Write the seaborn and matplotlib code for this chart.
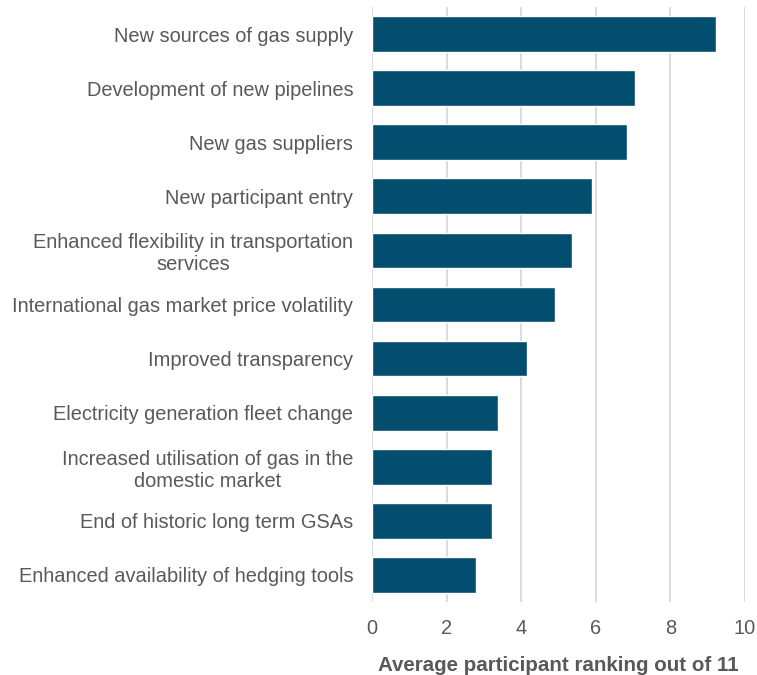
import matplotlib
matplotlib.use("Agg")
import matplotlib.pyplot as plt
import seaborn as sns
import pandas as pd

# 各驱动因素及平均排名
categories = [
    "New sources of gas supply",
    "Development of new pipelines",
    "New gas suppliers",
    "New participant entry",
    "Enhanced flexibility in transportation\nservices",
    "International gas market price volatility",
    "Improved transparency",
    "Electricity generation fleet change",
    "Increased utilisation of gas in the\ndomestic market",
    "End of historic long term GSAs",
    "Enhanced availability of hedging tools",
]
rankings = [9.21, 7.06, 6.84, 5.89, 5.35, 4.91, 4.15, 3.39, 3.21, 3.21, 2.80]
x_ticks = [0, 2, 4, 6, 8, 10]

BAR_COLOR = "#034D6F"
TEXT_COLOR = "#595959"
GRID_COLOR = "#D9D9D9"
FONT_SIZE = 14.4

df = pd.DataFrame({"driver": categories, "ranking": rankings})

sns.set_theme(style="white")
plt.rcParams["font.family"] = ["Liberation Sans", "DejaVu Sans"]

fig = plt.figure(figsize=(7.57, 6.75), dpi=100)
ax = fig.add_axes([372 / 757, 1 - 602 / 675, (745 - 372) / 757, (602 - 7) / 675])

sns.barplot(data=df, x="ranking", y="driver", orient="h", color=BAR_COLOR,
            width=0.66, saturation=1, ax=ax, zorder=3)

ax.set_xlim(0, 10)
ax.set_ylim(len(categories) - 0.5, -0.5)
ax.set_xticks(x_ticks)
ax.xaxis.grid(True, color=GRID_COLOR, linewidth=1.3, zorder=0)
ax.set_axisbelow(True)
for s in ax.spines.values():
    s.set_visible(False)

ax.tick_params(axis="x", length=0, pad=12, labelsize=FONT_SIZE, labelcolor=TEXT_COLOR)
ax.tick_params(axis="y", length=0, pad=13.5, labelsize=FONT_SIZE, labelcolor=TEXT_COLOR)
for lbl in ax.get_yticklabels():
    lbl.set_multialignment("center")

ax.set_ylabel("")
ax.set_xlabel("Average participant ranking out of 11", fontsize=14.8,
              fontweight="bold", color=TEXT_COLOR, labelpad=13)

fig.savefig("out.png", dpi=100)
